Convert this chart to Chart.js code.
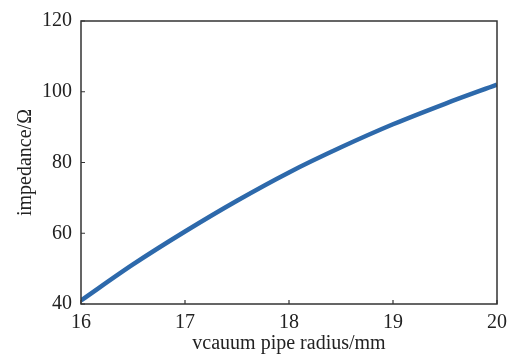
<!DOCTYPE html>
<html>
<head>
<meta charset="utf-8">
<script src="https://cdn.jsdelivr.net/npm/chart.js@4/dist/chart.umd.min.js"></script>
<style>
html,body{margin:0;padding:0;background:#fff;}
#wrap{width:517px;height:356px;}
</style>
</head>
<body>
<div id="wrap"><canvas id="c" width="517" height="356"></canvas></div>
<script>
const radius = [16, 16.5, 17, 17.5, 18, 18.5, 19, 19.5, 20];
const impedance = [41, 51.2, 60.5, 69.2, 77.2, 84.3, 90.8, 96.6, 102];
const xTicks = [16, 17, 18, 19, 20];
const yTicks = [40, 60, 80, 100, 120];
const xTitle = 'vcauum pipe radius/mm';
const yTitle = 'impedance/Ω';

const FONT = {family: '"Liberation Serif", "Times New Roman", serif', size: 20};
const TXT = '#222';

const framePlugin = {
  id: 'frame',
  afterDraw(chart) {
    const {ctx, chartArea: a, scales} = chart;
    ctx.save();
    ctx.strokeStyle = '#333';
    ctx.lineWidth = 1.5;
    ctx.strokeRect(a.left, a.top, a.right - a.left, a.bottom - a.top);
    ctx.lineWidth = 1.2;
    ctx.beginPath();
    xTicks.forEach(v => {
      const x = scales.x.getPixelForValue(v);
      ctx.moveTo(x, a.bottom); ctx.lineTo(x, a.bottom - 4);
    });
    yTicks.forEach(v => {
      const y = scales.y.getPixelForValue(v);
      ctx.moveTo(a.left, y); ctx.lineTo(a.left + 4, y);
    });
    ctx.stroke();
    ctx.restore();
  }
};

new Chart(document.getElementById('c'), {
  type: 'line',
  data: {
    labels: radius,
    datasets: [{
      data: radius.map((r, i) => ({x: r, y: impedance[i]})),
      borderColor: '#2d69ab',
      borderWidth: 4.5,
      pointRadius: 0,
      tension: 0.4,
      cubicInterpolationMode: 'monotone',
      fill: false
    }]
  },
  options: {
    responsive: false,
    animation: false,
    layout: {padding: {left: 0, right: 20, top: 18, bottom: 0}},
    plugins: {legend: {display: false}, tooltip: {enabled: false}},
    scales: {
      x: {
        type: 'linear', min: 16, max: 20,
        afterFit(s) { s.height = 52; },
        afterBuildTicks(s) { s.ticks = xTicks.map(v => ({value: v})); },
        grid: {display: true, drawOnChartArea: false, drawTicks: false},
        border: {display: false},
        ticks: {color: TXT, font: FONT, padding: 7, maxRotation: 0},
        title: {display: true, text: xTitle, color: TXT, font: FONT, padding: {top: 0, bottom: 0}}
      },
      y: {
        type: 'linear', min: 40, max: 120,
        afterFit(s) { s.width = 81; },
        afterBuildTicks(s) { s.ticks = yTicks.map(v => ({value: v})); },
        grid: {display: true, drawOnChartArea: false, drawTicks: false},
        border: {display: false},
        ticks: {color: TXT, font: FONT, padding: 9},
        title: {display: true, text: yTitle, color: TXT, font: FONT, padding: {top: 14, bottom: 0}}
      }
    }
  },
  plugins: [framePlugin]
});
</script>
</body>
</html>
